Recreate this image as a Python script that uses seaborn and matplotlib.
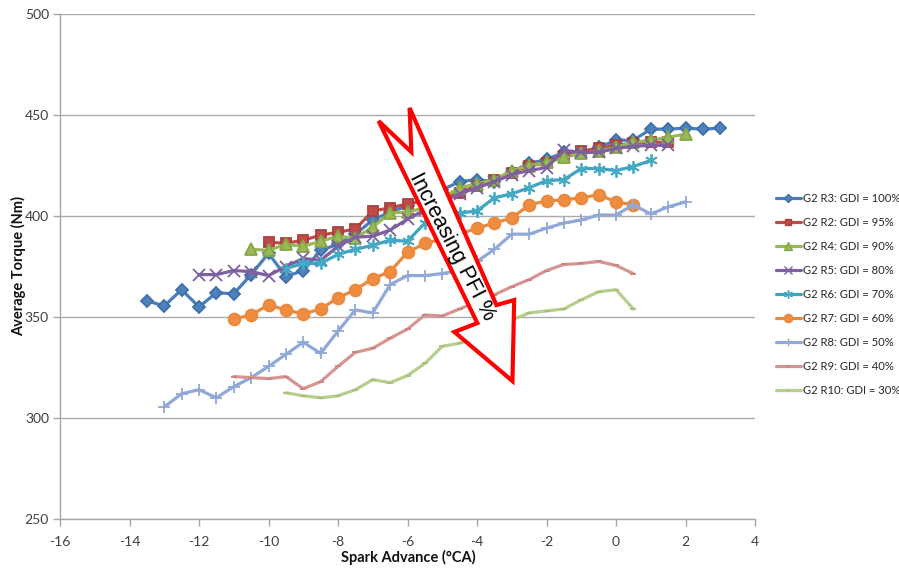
import matplotlib
matplotlib.use("Agg")
import matplotlib.pyplot as plt
from matplotlib.patches import Polygon
import seaborn as sns
import pandas as pd

# Spark advance sweeps (deg CA) and measured average torque (Nm)
r3_x = [-13.5, -13, -12.5, -12, -11.5, -11, -10.5, -10, -9.5, -9, -8.5, -8, -7.5, -7,
        -6.5, -6, -5.5, -5, -4.5, -4, -3.5, -3, -2.5, -2, -1.5, -1, -0.5, 0, 0.5, 1,
        1.5, 2, 2.5, 3]
r3_y = [358, 355.5, 363.5, 355, 362, 361.5, 371, 381.5, 370, 373, 383, 386, 391, 398,
        402, 405, 409, 413, 417, 418, 417, 422, 426, 428, 431.5, 431.5, 434, 437.5,
        437.5, 443, 443, 443.5, 443, 443.5]

r2_x = [-10, -9.5, -9, -8.5, -8, -7.5, -7, -6.5, -6, -5.5, -5, -4.5, -4, -3.5, -3,
        -2.5, -2, -1.5, -1, -0.5, 0, 0.5, 1, 1.5]
r2_y = [387, 386.5, 388, 390.5, 392, 393.5, 402.5, 404, 406, 407.5, 409, 411.5, 415,
        418, 421.5, 425, 426, 429.5, 432, 433.5, 435, 436, 436.5, 436.5]

r4_x = [-10.5, -10, -9.5, -9, -8.5, -8, -7.5, -7, -6.5, -6, -5.5, -5, -4.5, -4, -3.5,
        -3, -2.5, -2, -1.5, -1, -0.5, 0, 0.5, 1, 1.5, 2]
r4_y = [383.5, 383, 386, 385, 387.5, 390, 389, 394.5, 401.5, 402, 404, 409, 414, 416,
        418, 422.5, 425, 426.5, 429, 431, 432, 434, 436.5, 437.5, 439, 440.5]

r5_x = [-12, -11.5, -11, -10.5, -10, -9.5, -9, -8.5, -8, -7.5, -7, -6.5, -6, -5.5, -5,
        -4.5, -4, -3.5, -3, -2.5, -2, -1.5, -1, -0.5, 0, 0.5, 1, 1.5]
r5_y = [371, 371, 373, 372.5, 370.5, 375, 379, 378, 385, 389.5, 390, 393, 398.5, 403,
        407, 411, 414, 417, 420.5, 422.5, 424, 432.5, 431.5, 431.5, 433.5, 434.5, 435,
        435]

r6_x = [-9.5, -9, -8.5, -8, -7.5, -7, -6.5, -6, -5.5, -5, -4.5, -4, -3.5, -3, -2.5, -2,
        -1.5, -1, -0.5, 0, 0.5, 1]
r6_y = [374, 376.5, 376.5, 381, 383.5, 385.5, 388, 387.5, 396.5, 400, 401.5, 402.5,
        409, 411, 414, 417.5, 418, 423.5, 423.5, 422.5, 424.5, 427.5]

r7_x = [-11, -10.5, -10, -9.5, -9, -8.5, -8, -7.5, -7, -6.5, -6, -5.5, -5, -4.5, -4,
        -3.5, -3, -2.5, -2, -1.5, -1, -0.5, 0, 0.5]
r7_y = [349, 351, 356, 353.5, 351.5, 354, 359.5, 363.5, 369, 372.5, 382, 386.5, 388.5,
        391, 394, 396.5, 399, 405.5, 407.5, 408, 409, 410.5, 407, 405.5]

r8_x = [-13, -12.5, -12, -11.5, -11, -10.5, -10, -9.5, -9, -8.5, -8, -7.5, -7, -6.5,
        -6, -5.5, -5, -4.5, -4, -3.5, -3, -2.5, -2, -1.5, -1, -0.5, 0, 0.5, 1, 1.5, 2]
r8_y = [305.5, 312, 314, 310, 315.5, 320, 325.5, 331.5, 337.5, 332, 343, 353.5, 352,
        366, 370.5, 370.5, 371.5, 373, 377.5, 383.5, 391, 391, 394, 396.5, 398, 400.5,
        400.5, 405.5, 401, 404.5, 407]

r9_x = [-11, -10.5, -10, -9.5, -9, -8.5, -8, -7.5, -7, -6.5, -6, -5.5, -5, -4.5, -4,
        -3.5, -3, -2.5, -2, -1.5, -1, -0.5, 0, 0.5]
r9_y = [320.5, 320, 319.5, 320.5, 314.5, 318, 325.5, 332.5, 334.5, 339.5, 344, 351,
        350.5, 354, 357.5, 361, 365, 368.5, 373, 376, 376.5, 377.5, 375.5, 371.5]

r10_x = [-9.5, -9, -8.5, -8, -7.5, -7, -6.5, -6, -5.5, -5, -4.5, -4, -3.5, -3, -2.5,
         -2, -1.5, -1, -0.5, 0, 0.5]
r10_y = [312.5, 311, 310, 311, 314, 319, 317.5, 321, 327, 335.5, 337, 340, 344, 348.5,
         352, 353, 354, 358.5, 362.5, 363.5, 354]

labels = ["G2 R3: GDI = 100%", "G2 R2: GDI = 95%", "G2 R4: GDI = 90%",
          "G2 R5: GDI = 80%", "G2 R6: GDI = 70%", "G2 R7: GDI = 60%",
          "G2 R8: GDI = 50%", "G2 R9: GDI = 40%", "G2 R10: GDI = 30%"]

x_ticks = [-16, -14, -12, -10, -8, -6, -4, -2, 0, 2, 4]
y_ticks = [250, 300, 350, 400, 450, 500]

series = [(r3_x, r3_y), (r2_x, r2_y), (r4_x, r4_y), (r5_x, r5_y), (r6_x, r6_y),
          (r7_x, r7_y), (r8_x, r8_y), (r9_x, r9_y), (r10_x, r10_y)]

styles = [
    dict(color="#4A7EBB", marker="D", ms=6.5, mfc="#4F81BD", mec="#3D6FA8"),
    dict(color="#BE4B48", marker="s", ms=7, mfc="#BE4B48", mec="#A8403D"),
    dict(color="#98B954", marker="^", ms=8, mfc="#98B954", mec="#86A549"),
    dict(color="#7D60A0", marker="x", ms=8, mfc="#7D60A0", mec="#7D60A0"),
    dict(color="#3FA4C0", marker=(6, 2, 0), ms=9, mfc="#46AAC5", mec="#46AAC5"),
    dict(color="#E8893E", marker="o", ms=8.5, mfc="#F08C40", mec="#E8893E"),
    dict(color="#90A9D8", marker="+", ms=9, mfc="#90A9D8", mec="#90A9D8"),
    dict(color="#D69593", marker="_", ms=5, mfc="#C98382", mec="#C98382"),
    dict(color="#B6CF8C", marker="_", ms=5, mfc="#A7C07C", mec="#A7C07C"),
]

sns.set_style("white")
plt.rcParams["font.family"] = ["Lato", "DejaVu Sans"]

fig = plt.figure(figsize=(8.99, 5.68), dpi=100)
ax = fig.add_axes([60 / 899, 1 - 519 / 568, 695 / 899, 505 / 568])

for (xs, ys), lab, st in zip(series, labels, styles):
    df = pd.DataFrame({"sa": xs, "tq": ys})
    sns.lineplot(data=df, x="sa", y="tq", ax=ax, label=lab, color=st["color"],
                 marker=st["marker"], markersize=st["ms"], markerfacecolor=st["mfc"],
                 markeredgecolor=st["mec"], markeredgewidth=1.3, linewidth=2.3,
                 sort=False, estimator=None, legend=False, zorder=3)

ax.set_xlim(-16, 4)
ax.set_ylim(250, 500)
ax.set_xticks(x_ticks)
ax.set_yticks(y_ticks)
ax.set_xticklabels([str(v) for v in x_ticks])
ax.set_yticklabels([str(v) for v in y_ticks])
ax.yaxis.grid(True, color="#ABABAB", linewidth=1)
ax.xaxis.grid(False)
ax.set_axisbelow(True)
for side in ("top", "right"):
    ax.spines[side].set_visible(False)
for side in ("left", "bottom"):
    ax.spines[side].set_color("#A6A6A6")
    ax.spines[side].set_linewidth(1)
ax.tick_params(axis="both", which="major", direction="out", length=5, width=1,
               color="#A6A6A6", labelsize=10, labelcolor="#404040", pad=3,
               left=True, bottom=True)
ax.tick_params(axis="x", pad=7)
ax.set_xlabel("Spark Advance (°CA)", fontsize=10.5, fontweight="bold", color="#111111",
              va="center")
ax.set_ylabel("Average Torque (Nm)", fontsize=10.5, fontweight="bold", color="#111111",
              va="center")
ax.xaxis.set_label_coords((408 - 60) / 695, (519 - 557) / 505)
ax.yaxis.set_label_coords((19 - 60) / 695, 0.5)

# Callout arrow showing the trend with port-fuel share
arrow_pts = [(-5.94, 453.5), (-3.44, 355.9), (-2.93, 358.4), (-2.98, 318.3),
             (-4.65, 342.6), (-3.99, 347.0), (-6.83, 447.0), (-5.89, 431.7)]
ax.add_patch(Polygon(arrow_pts, closed=True, facecolor="white", edgecolor="#FF0000",
                     linewidth=3, joinstyle="miter", zorder=5))
ax.text(-4.71, 384.7, "Increasing PFI %", rotation=-62.5, rotation_mode="anchor",
        ha="center", va="center", fontsize=15.5, family=["Liberation Sans", "DejaVu Sans"],
        color="black", zorder=6)

handles, hlabels = [], []
for lab, st in zip(labels, styles):
    h, = ax.plot([], [], color=st["color"], marker=st["marker"], markersize=st["ms"] * 0.7,
                 markerfacecolor=st["mfc"], markeredgecolor=st["mec"], linewidth=2.3)
    handles.append(h)
    hlabels.append(lab)
fig.legend(handles, hlabels, loc="upper left", bbox_to_anchor=(776 / 899, 1 - 193 / 568),
           frameon=False, fontsize=8.1, handlelength=2.2, handletextpad=0.2,
           labelspacing=1.15, borderaxespad=0, borderpad=0, labelcolor="#262626")

fig.savefig("out.png", dpi=100)
